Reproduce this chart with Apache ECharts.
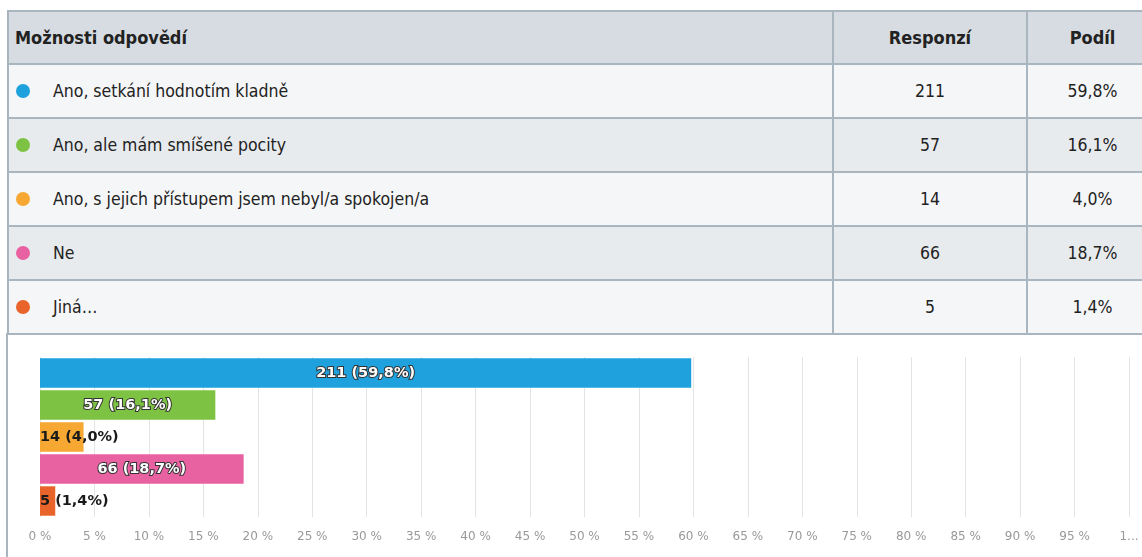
<!DOCTYPE html>
<html>
<head>
<meta charset="utf-8">
<script src="https://cdn.jsdelivr.net/npm/echarts@6/dist/echarts.min.js"></script>
<style>
  html, body { margin: 0; padding: 0; background: #fff; }
  body { width: 1142px; height: 557px; overflow: hidden; position: relative; }
  #tbl {
    position: absolute; left: 7px; top: 10px; width: 1150px;
    border-collapse: collapse; table-layout: fixed;
    font-family: "DejaVu Sans Condensed", sans-serif;
    font-size: 17.5px; color: #222;
  }
  #tbl td, #tbl th { border: 2px solid #a9b5bf; height: 52px; padding: 0; }
  #tbl th { background: #d6dce1; font-weight: bold; height: 51px; font-size: 18px; }
  #tbl th.first { text-align: left; padding-left: 6px; }
  #tbl tr:nth-child(odd) td { background: #f5f6f7; }
  #tbl tr:nth-child(even) td { background: #e8ebed; }
  #tbl td.c { text-align: center; }
  #tbl td.first { padding-left: 44px; position: relative; }
  .dot { position: absolute; left: 7px; top: 50%; margin-top: -7px; width: 14px; height: 14px; border-radius: 50%; }
  #leftline { position: absolute; left: 6px; top: 333px; width: 2px; height: 224px; background: #a9b5bf; }
  #chart { position: absolute; left: 0; top: 333px; width: 1142px; height: 224px; }
</style>
</head>
<body>
<table id="tbl">
  <colgroup><col style="width:825px"><col style="width:194px"><col style="width:131px"></colgroup>
  <thead></thead>
  <tbody></tbody>
</table>
<div id="leftline"></div>
<div id="chart"></div>
<script>
const headers = ["Možnosti odpovědí", "Responzí", "Podíl"];
const categories = [
  "Ano, setkání hodnotím kladně",
  "Ano, ale mám smíšené pocity",
  "Ano, s jejich přístupem jsem nebyl/a spokojen/a",
  "Ne",
  "Jiná..."
];
const counts = [211, 57, 14, 66, 5];
const shares = [59.8, 16.1, 4.0, 18.7, 1.4];
const shareLabels = ["59,8%", "16,1%", "4,0%", "18,7%", "1,4%"];
const colors = ["#1ea1dc", "#7dc242", "#f6a832", "#e862a2", "#e9642a"];
const xTickLabels = ["0 %", "5 %", "10 %", "15 %", "20 %", "25 %", "30 %", "35 %", "40 %", "45 %",
  "50 %", "55 %", "60 %", "65 %", "70 %", "75 %", "80 %", "85 %", "90 %", "95 %", "1..."];

// tabulka
const thead = document.querySelector("#tbl thead");
thead.innerHTML = "<tr><th class='first'>" + headers[0] + "</th><th>" + headers[1] + "</th><th>" + headers[2] + "</th></tr>";
const tbody = document.querySelector("#tbl tbody");
categories.forEach((name, i) => {
  const tr = document.createElement("tr");
  tr.innerHTML =
    "<td class='first'><span class='dot' style='background:" + colors[i] + "'></span>" + name.replace("...", "…") + "</td>" +
    "<td class='c'>" + counts[i] + "</td>" +
    "<td class='c'>" + shareLabels[i] + "</td>";
  tbody.appendChild(tr);
});

// graf
const chart = echarts.init(document.getElementById("chart"));
const option = {
  animation: false,
  grid: { left: 40, right: 13, top: 24, bottom: 40 },
  xAxis: {
    type: "value",
    min: 0,
    max: 100,
    interval: 5,
    axisLine: { show: false },
    axisTick: { show: false },
    splitLine: { lineStyle: { color: "#e4e4e4", width: 1 } },
    axisLabel: {
      color: "#999",
      fontSize: 12,
      fontFamily: "DejaVu Sans",
      margin: 14,
      formatter: (v) => xTickLabels[Math.round(v / 5)]
    }
  },
  yAxis: {
    type: "category",
    inverse: true,
    data: categories,
    axisLine: { show: false },
    axisTick: { show: false },
    axisLabel: { show: false }
  },
  series: [
    {
      type: "bar",
      barCategoryGap: "8%",
      data: shares.map((v, i) => {
        const small = v < 10;
        return {
          value: v,
          itemStyle: { color: colors[i] },
          label: small
            ? { position: "insideLeft", distance: 0, color: "#1a1a1a", textBorderWidth: 0 }
            : { position: "inside", color: "#fff", textBorderColor: "#333", textBorderWidth: 2 }
        };
      }),
      label: {
        show: true,
        fontFamily: "DejaVu Sans",
        fontWeight: "bold",
        fontSize: 14.5,
        formatter: (p) => counts[p.dataIndex] + " (" + shareLabels[p.dataIndex] + ")"
      }
    }
  ]
};
chart.setOption(option);
</script>
</body>
</html>
